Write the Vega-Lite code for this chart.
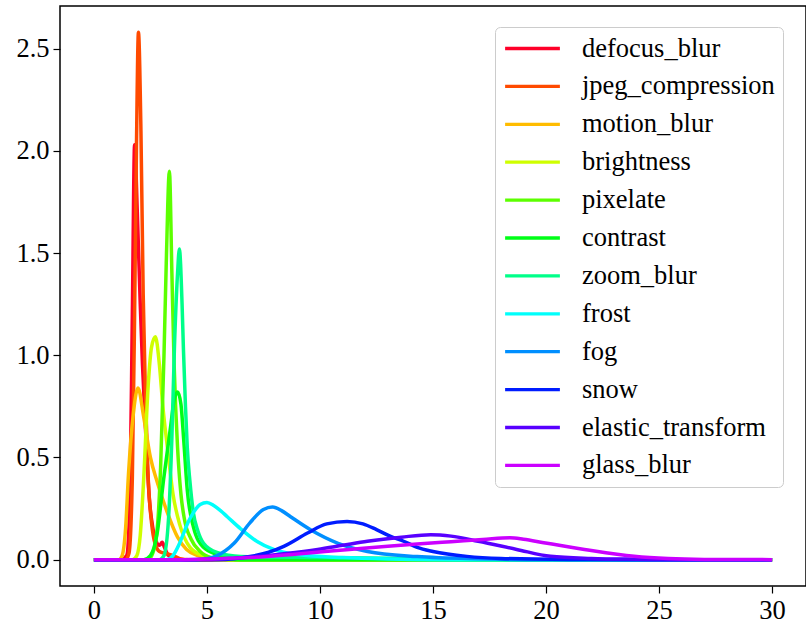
{
  "$schema": "https://vega.github.io/schema/vega-lite/v6.json",
  "autosize": {"type": "none"},
  "width": 746,
  "height": 580,
  "padding": {"left": 60, "top": 6, "right": 0, "bottom": 43},
  "background": "white",
  "config": {
    "view": {"stroke": "black", "strokeWidth": 1.5},
    "font": "Liberation Serif",
    "axis": {"labelFont": "Liberation Serif", "labelFontSize": 26.5, "labelColor": "black", "tickColor": "black", "tickSize": 7, "tickWidth": 1.2, "grid": false, "domain": false, "labelPadding": 4, "title": null}
  },
  "data": {"values": [
    {"c":"defocus_blur","x":0,"y":0},{"c":"defocus_blur","x":1.2,"y":0},{"c":"defocus_blur","x":1.45,"y":0.02},{"c":"defocus_blur","x":1.6,"y":0.35},{"c":"defocus_blur","x":1.7,"y":1.2},{"c":"defocus_blur","x":1.8,"y":2.03},{"c":"defocus_blur","x":1.92,"y":1.7},{"c":"defocus_blur","x":2.05,"y":1.25},{"c":"defocus_blur","x":2.15,"y":0.95},{"c":"defocus_blur","x":2.3,"y":0.6},{"c":"defocus_blur","x":2.45,"y":0.3},{"c":"defocus_blur","x":2.6,"y":0.16},{"c":"defocus_blur","x":2.75,"y":0.09},{"c":"defocus_blur","x":2.9,"y":0.07},{"c":"defocus_blur","x":3.02,"y":0.085},{"c":"defocus_blur","x":3.12,"y":0.06},{"c":"defocus_blur","x":3.3,"y":0.02},{"c":"defocus_blur","x":3.6,"y":0.005},{"c":"defocus_blur","x":4,"y":0},{"c":"defocus_blur","x":30,"y":0},
    {"c":"jpeg_compression","x":0,"y":0},{"c":"jpeg_compression","x":1.4,"y":0},{"c":"jpeg_compression","x":1.55,"y":0.03},{"c":"jpeg_compression","x":1.7,"y":0.4},{"c":"jpeg_compression","x":1.8,"y":1.2},{"c":"jpeg_compression","x":1.88,"y":2.0},{"c":"jpeg_compression","x":1.97,"y":2.58},{"c":"jpeg_compression","x":2.08,"y":2.1},{"c":"jpeg_compression","x":2.18,"y":1.3},{"c":"jpeg_compression","x":2.28,"y":0.8},{"c":"jpeg_compression","x":2.4,"y":0.4},{"c":"jpeg_compression","x":2.55,"y":0.18},{"c":"jpeg_compression","x":2.7,"y":0.08},{"c":"jpeg_compression","x":2.9,"y":0.04},{"c":"jpeg_compression","x":3.2,"y":0.03},{"c":"jpeg_compression","x":3.5,"y":0.02},{"c":"jpeg_compression","x":3.8,"y":0.005},{"c":"jpeg_compression","x":4.2,"y":0},{"c":"jpeg_compression","x":30,"y":0},
    {"c":"motion_blur","x":0,"y":0},{"c":"motion_blur","x":1.1,"y":0},{"c":"motion_blur","x":1.25,"y":0.02},{"c":"motion_blur","x":1.4,"y":0.15},{"c":"motion_blur","x":1.53,"y":0.42},{"c":"motion_blur","x":1.75,"y":0.72},{"c":"motion_blur","x":1.95,"y":0.84},{"c":"motion_blur","x":2.2,"y":0.7},{"c":"motion_blur","x":2.5,"y":0.5},{"c":"motion_blur","x":2.8,"y":0.38},{"c":"motion_blur","x":3.25,"y":0.23},{"c":"motion_blur","x":3.7,"y":0.11},{"c":"motion_blur","x":4.1,"y":0.05},{"c":"motion_blur","x":4.6,"y":0.02},{"c":"motion_blur","x":5.5,"y":0},{"c":"motion_blur","x":30,"y":0},
    {"c":"brightness","x":0,"y":0},{"c":"brightness","x":1.7,"y":0},{"c":"brightness","x":1.9,"y":0.02},{"c":"brightness","x":2.05,"y":0.12},{"c":"brightness","x":2.2,"y":0.39},{"c":"brightness","x":2.4,"y":0.85},{"c":"brightness","x":2.55,"y":1.04},{"c":"brightness","x":2.72,"y":1.09},{"c":"brightness","x":2.9,"y":0.95},{"c":"brightness","x":3.05,"y":0.75},{"c":"brightness","x":3.25,"y":0.55},{"c":"brightness","x":3.5,"y":0.32},{"c":"brightness","x":3.8,"y":0.17},{"c":"brightness","x":4.25,"y":0.06},{"c":"brightness","x":4.8,"y":0.02},{"c":"brightness","x":5.5,"y":0},{"c":"brightness","x":30,"y":0},
    {"c":"pixelate","x":0,"y":0},{"c":"pixelate","x":2.4,"y":0},{"c":"pixelate","x":2.6,"y":0.03},{"c":"pixelate","x":2.8,"y":0.15},{"c":"pixelate","x":2.95,"y":0.45},{"c":"pixelate","x":3.1,"y":1.0},{"c":"pixelate","x":3.2,"y":1.45},{"c":"pixelate","x":3.34,"y":1.9},{"c":"pixelate","x":3.45,"y":1.4},{"c":"pixelate","x":3.55,"y":0.95},{"c":"pixelate","x":3.7,"y":0.55},{"c":"pixelate","x":3.85,"y":0.32},{"c":"pixelate","x":4.0,"y":0.2},{"c":"pixelate","x":4.3,"y":0.1},{"c":"pixelate","x":4.7,"y":0.04},{"c":"pixelate","x":5.2,"y":0.01},{"c":"pixelate","x":6,"y":0},{"c":"pixelate","x":30,"y":0},
    {"c":"contrast","x":0,"y":0},{"c":"contrast","x":2.2,"y":0},{"c":"contrast","x":2.5,"y":0.02},{"c":"contrast","x":2.8,"y":0.13},{"c":"contrast","x":3.08,"y":0.39},{"c":"contrast","x":3.38,"y":0.64},{"c":"contrast","x":3.55,"y":0.78},{"c":"contrast","x":3.7,"y":0.82},{"c":"contrast","x":3.85,"y":0.76},{"c":"contrast","x":3.97,"y":0.59},{"c":"contrast","x":4.13,"y":0.34},{"c":"contrast","x":4.4,"y":0.16},{"c":"contrast","x":4.85,"y":0.06},{"c":"contrast","x":5.45,"y":0.025},{"c":"contrast","x":6.5,"y":0},{"c":"contrast","x":30,"y":0},
    {"c":"zoom_blur","x":0,"y":0},{"c":"zoom_blur","x":2.9,"y":0},{"c":"zoom_blur","x":3.1,"y":0.02},{"c":"zoom_blur","x":3.3,"y":0.2},{"c":"zoom_blur","x":3.45,"y":0.6},{"c":"zoom_blur","x":3.56,"y":1.03},{"c":"zoom_blur","x":3.7,"y":1.4},{"c":"zoom_blur","x":3.78,"y":1.52},{"c":"zoom_blur","x":3.9,"y":1.25},{"c":"zoom_blur","x":3.96,"y":1.03},{"c":"zoom_blur","x":4.05,"y":0.75},{"c":"zoom_blur","x":4.13,"y":0.55},{"c":"zoom_blur","x":4.25,"y":0.38},{"c":"zoom_blur","x":4.4,"y":0.23},{"c":"zoom_blur","x":4.6,"y":0.14},{"c":"zoom_blur","x":4.85,"y":0.08},{"c":"zoom_blur","x":5.45,"y":0.035},{"c":"zoom_blur","x":6.5,"y":0.015},{"c":"zoom_blur","x":10,"y":0.01},{"c":"zoom_blur","x":14,"y":0.005},{"c":"zoom_blur","x":16,"y":0},{"c":"zoom_blur","x":30,"y":0},
    {"c":"frost","x":0,"y":0},{"c":"frost","x":3.2,"y":0},{"c":"frost","x":3.5,"y":0.02},{"c":"frost","x":3.75,"y":0.07},{"c":"frost","x":3.97,"y":0.13},{"c":"frost","x":4.2,"y":0.19},{"c":"frost","x":4.4,"y":0.23},{"c":"frost","x":4.7,"y":0.27},{"c":"frost","x":5.0,"y":0.28},{"c":"frost","x":5.3,"y":0.265},{"c":"frost","x":5.6,"y":0.24},{"c":"frost","x":5.9,"y":0.21},{"c":"frost","x":6.5,"y":0.15},{"c":"frost","x":7.2,"y":0.09},{"c":"frost","x":7.95,"y":0.05},{"c":"frost","x":9,"y":0.025},{"c":"frost","x":11,"y":0.01},{"c":"frost","x":13,"y":0.003},{"c":"frost","x":15,"y":0},{"c":"frost","x":30,"y":0},
    {"c":"fog","x":0,"y":0},{"c":"fog","x":4.5,"y":0},{"c":"fog","x":5.0,"y":0.005},{"c":"fog","x":5.45,"y":0.02},{"c":"fog","x":6.2,"y":0.08},{"c":"fog","x":6.9,"y":0.18},{"c":"fog","x":7.5,"y":0.245},{"c":"fog","x":7.9,"y":0.257},{"c":"fog","x":8.3,"y":0.24},{"c":"fog","x":8.7,"y":0.21},{"c":"fog","x":9.6,"y":0.145},{"c":"fog","x":10.8,"y":0.08},{"c":"fog","x":12.1,"y":0.04},{"c":"fog","x":14.3,"y":0.015},{"c":"fog","x":17,"y":0.004},{"c":"fog","x":20,"y":0},{"c":"fog","x":30,"y":0},
    {"c":"snow","x":0,"y":0},{"c":"snow","x":5.5,"y":0},{"c":"snow","x":6.9,"y":0.015},{"c":"snow","x":7.7,"y":0.035},{"c":"snow","x":8.4,"y":0.065},{"c":"snow","x":9.45,"y":0.13},{"c":"snow","x":10.3,"y":0.175},{"c":"snow","x":11.2,"y":0.187},{"c":"snow","x":11.9,"y":0.175},{"c":"snow","x":12.5,"y":0.147},{"c":"snow","x":13.1,"y":0.115},{"c":"snow","x":13.7,"y":0.09},{"c":"snow","x":14.3,"y":0.06},{"c":"snow","x":15.0,"y":0.04},{"c":"snow","x":16.5,"y":0.016},{"c":"snow","x":18,"y":0.006},{"c":"snow","x":21,"y":0.001},{"c":"snow","x":24,"y":0},{"c":"snow","x":30,"y":0},
    {"c":"elastic_transform","x":0,"y":0},{"c":"elastic_transform","x":4,"y":0},{"c":"elastic_transform","x":6,"y":0.005},{"c":"elastic_transform","x":6.9,"y":0.012},{"c":"elastic_transform","x":8.5,"y":0.03},{"c":"elastic_transform","x":9.9,"y":0.05},{"c":"elastic_transform","x":11,"y":0.07},{"c":"elastic_transform","x":12.1,"y":0.09},{"c":"elastic_transform","x":13.6,"y":0.11},{"c":"elastic_transform","x":14.9,"y":0.122},{"c":"elastic_transform","x":15.8,"y":0.115},{"c":"elastic_transform","x":17,"y":0.09},{"c":"elastic_transform","x":18.7,"y":0.05},{"c":"elastic_transform","x":20.2,"y":0.016},{"c":"elastic_transform","x":22,"y":0.006},{"c":"elastic_transform","x":24,"y":0.002},{"c":"elastic_transform","x":26,"y":0},{"c":"elastic_transform","x":30,"y":0},
    {"c":"glass_blur","x":0,"y":0},{"c":"glass_blur","x":4,"y":0},{"c":"glass_blur","x":5,"y":0.003},{"c":"glass_blur","x":6.9,"y":0.01},{"c":"glass_blur","x":9,"y":0.028},{"c":"glass_blur","x":11.3,"y":0.05},{"c":"glass_blur","x":13,"y":0.066},{"c":"glass_blur","x":14.3,"y":0.077},{"c":"glass_blur","x":15.8,"y":0.088},{"c":"glass_blur","x":17.2,"y":0.098},{"c":"glass_blur","x":18.4,"y":0.107},{"c":"glass_blur","x":19,"y":0.1},{"c":"glass_blur","x":19.9,"y":0.083},{"c":"glass_blur","x":21.7,"y":0.05},{"c":"glass_blur","x":23.9,"y":0.016},{"c":"glass_blur","x":25.4,"y":0.005},{"c":"glass_blur","x":27,"y":0.001},{"c":"glass_blur","x":30,"y":0}
  ]},
  "mark": {"type": "line", "strokeWidth": 3.5, "clip": true, "interpolate": "monotone"},
  "encoding": {
    "x": {"field": "x", "type": "quantitative", "scale": {"domain": [-1.5, 31.5], "nice": false, "zero": false}, "axis": {"values": [0, 5, 10, 15, 20, 25, 30], "format": "d"}},
    "y": {"field": "y", "type": "quantitative", "scale": {"domain": [-0.129, 2.709], "nice": false, "zero": false}, "axis": {"values": [0, 0.5, 1, 1.5, 2, 2.5], "format": ".1f"}},
    "color": {
      "field": "c", "type": "nominal",
      "sort": ["defocus_blur","jpeg_compression","motion_blur","brightness","pixelate","contrast","zoom_blur","frost","fog","snow","elastic_transform","glass_blur"],
      "scale": {
        "domain": ["defocus_blur","jpeg_compression","motion_blur","brightness","pixelate","contrast","zoom_blur","frost","fog","snow","elastic_transform","glass_blur"],
        "range": ["#ff0029","#ff4a00","#ffbc00","#cfff00","#5cff00","#00ff17","#00ff89","#00fffb","#008fff","#001cff","#5800ff","#cb00ff"]
      },
      "legend": {
        "title": null, "orient": "none", "legendX": 435, "legendY": 21,
        "symbolType": "stroke", "symbolSize": 3000, "symbolStrokeWidth": 3.3,
        "labelFont": "Liberation Serif", "labelFontSize": 26.5, "labelColor": "black", "labelLimit": 400, "labelOffset": 20,
        "clipHeight": 27, "rowPadding": 10.9, "padding": 8, "fillColor": "rgba(255,255,255,0.8)", "strokeColor": "#cccccc", "cornerRadius": 5
      }
    }
  }
}
